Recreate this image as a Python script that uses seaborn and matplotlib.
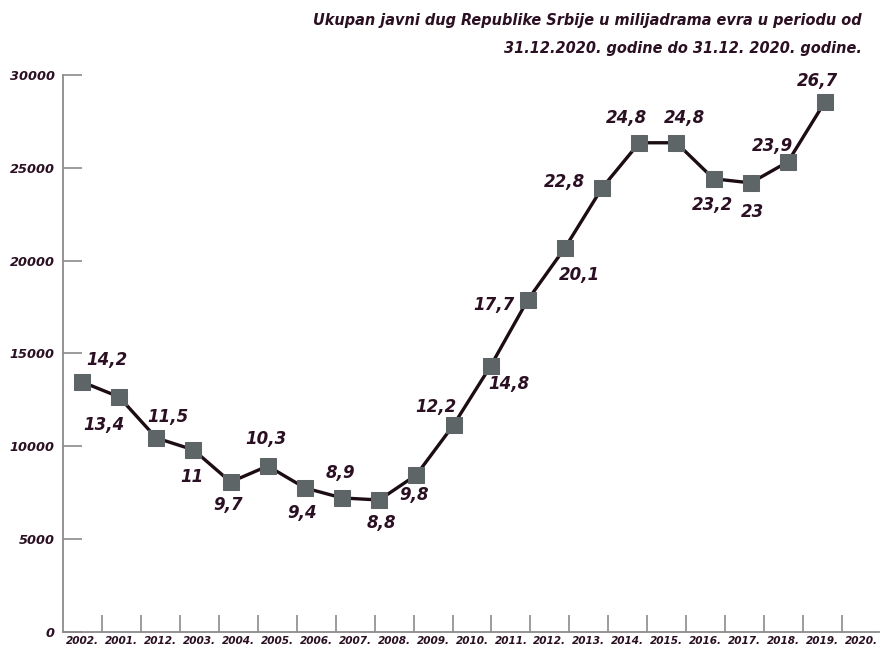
import matplotlib
matplotlib.use("Agg")
import matplotlib.pyplot as plt
from matplotlib import font_manager
import seaborn as sns
import pandas as pd
import numpy as np

# ---- data ----
years = ["2002.", "2001.", "2012.", "2003.", "2004.", "2005.", "2006.", "2007.", "2008.",
         "2009.", "2010.", "2011.", "2012.", "2013.", "2014.", "2015.", "2016.", "2017.",
         "2018.", "2019.", "2020."]
values = [13470, 12660, 10450, 9810, 8080, 8940, 7760, 7220, 7110, 8460, 11150,
          14330, 17890, 20690, 23920, 26350, 26350, 24410, 24190, 25320, 28560]
point_labels = ["14,2", "13,4", "11,5", "11", "9,7", "10,3", "9,4", "8,9", "8,8", "9,8",
                "12,2", "14,8", "17,7", "20,1", "22,8", "24,8", "24,8", "23,2", "23",
                "23,9", "26,7"]
y_ticks = [0, 5000, 10000, 15000, 20000, 25000, 30000]
title_lines = ["Ukupan javni dug Republike Srbije u milijadrama evra u periodu od",
               "31.12.2020. godine do 31.12. 2020. godine."]

# label offsets in pixels (style)
label_offsets = [(25, 22), (-15, -28), (12, 21), (-2, -27), (-2, -23), (-2, 27), (-3, -25),
                 (-2, 25), (2, -23), (-2, -20), (-18, 18), (18, -18), (-34, -5), (15, -27),
                 (-38, 6), (-13, 25), (8, 25), (-1, -26), (2, -29), (-15, 16), (-8, 21)]

df = pd.DataFrame({"x": np.arange(len(values)), "value": values})

sns.set_theme(style="white")
plt.rcParams['font.family'] = ['DejaVu Sans']


def pick_font():
    for fam, stretch in [("Liberation Sans Narrow", "normal"),
                         ("DejaVu Sans", "condensed"),
                         ("Liberation Sans", "normal")]:
        try:
            fp = font_manager.FontProperties(family=fam, stretch=stretch,
                                             weight="bold", style="italic")
            path = font_manager.findfont(fp, fallback_to_default=False)
            if fam == "DejaVu Sans" and "Condensed" not in path:
                continue
            if fam.split()[0].lower() in path.lower().replace("-", " "):
                return fam, stretch
        except Exception:
            continue
    return "DejaVu Sans", "normal"


TXT = "#2a1022"
AX = "#8c8a8b"

fig = plt.figure(figsize=(8.81, 6.51), dpi=100)
ax = fig.add_axes([63 / 881, 19 / 651, 816 / 881, (632 - 75) / 651])

sns.lineplot(data=df, x="x", y="value", ax=ax, color="#1c0c14", linewidth=2.4,
             marker="s", markersize=11, markerfacecolor="#5e6566",
             markeredgecolor="#5e6566", zorder=3)

step = 37.15
ax.set_xlim(-(82 - 63) / step, (879 - 82) / step)
ax.set_ylim(0, 30000)

for i, (v, lab) in enumerate(zip(values, point_labels)):
    dx, dy = label_offsets[i]
    ax.annotate(lab, (i, v), xytext=(dx, dy), textcoords="offset pixels",
                ha="center", va="center", fontsize=12, fontweight="bold",
                fontstyle="italic", color=TXT, zorder=4)

# y axis
ax.set_yticks(y_ticks)
ax.set_yticklabels([str(t) for t in y_ticks], fontsize=9.3, fontweight="bold",
                   fontstyle="italic", color=TXT)
ax.tick_params(axis="y", direction="in", length=14, width=1.2, color=AX, pad=6, left=True)

# x axis: boundary ticks and category labels (reference spacing 38.95 px)
cat_px = 38.95
bound = [(63 + cat_px * k - 82) / step for k in range(1, len(years))]
ax.set_xticks(bound)
ax.set_xticklabels([])
ax.tick_params(axis="x", direction="in", length=12, width=1.2, color=AX, bottom=True)
centers = [(63 + cat_px * (k + 0.5) - 82) / step for k in range(len(years))]
ax.set_xticks(centers, minor=True)
ax.set_xticklabels(years, minor=True, fontsize=7.6, fontweight="bold",
                   fontstyle="italic", color=TXT)
ax.tick_params(axis="x", which="minor", length=0, pad=3)

ax.set_xlabel("")
ax.set_ylabel("")
for s in ["top", "right"]:
    ax.spines[s].set_visible(False)
for s in ["left", "bottom"]:
    ax.spines[s].set_color(AX)
    ax.spines[s].set_linewidth(1.3)

fam, stretch = pick_font()
titles = []
for line, ypx in zip(title_lines, [20, 48]):
    titles.append(fig.text(862 / 881, 1 - ypx / 651, line, ha="right", va="center",
                           fontsize=14, fontweight="bold", fontstyle="italic", color=TXT,
                           family=[fam, "DejaVu Sans"], fontstretch=stretch))
# fit first title line to the reference width (549 px)
renderer = fig.canvas.get_renderer()
w = titles[0].get_window_extent(renderer).width
size = 14 * 549 / w
for t in titles:
    t.set_fontsize(size)

fig.savefig("out.png", dpi=100, facecolor="white")
